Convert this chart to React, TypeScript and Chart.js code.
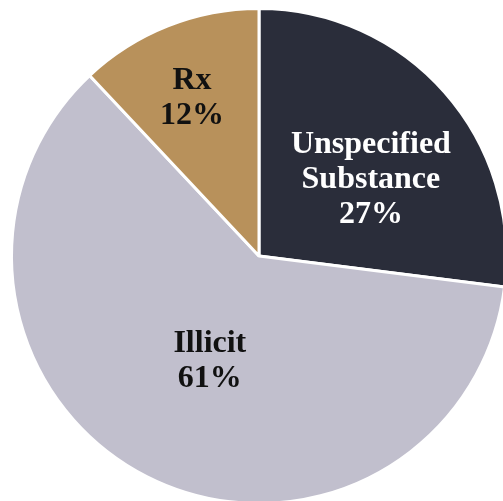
import React, { useEffect, useRef } from "react";
import { Chart, registerables } from "chart.js";

Chart.register(...registerables);

const categories: string[][] = [["Unspecified", "Substance"], ["Illicit"], ["Rx"]];
const values: number[] = [27, 61, 12];
const colors: string[] = ["#2a2d3a", "#c1bfcd", "#b8915b"];
const textColors: string[] = ["#ffffff", "#111111", "#111111"];
// label placement: radial fraction, and pixel shifts
const labelFrac: number[] = [0.56, 0.46, 0.71];
const labelShift: number[][] = [[9, 12], [2, 3], [-3, 2]];

const labelPlugin = {
  id: "sliceLabels",
  afterDatasetsDraw(chart: any) {
    const ctx = chart.ctx;
    const meta = chart.getDatasetMeta(0);
    const total = values.reduce((a, b) => a + b, 0);
    ctx.save();
    const fs = 32;
    const lh = 35;
    ctx.font = `bold ${fs}px "Liberation Serif", "DejaVu Serif", serif`;
    ctx.textAlign = "center";
    ctx.textBaseline = "alphabetic";
    meta.data.forEach((arc: any, i: number) => {
      const p = arc.getProps(["x", "y", "startAngle", "endAngle"], true);
      const mid = (p.startAngle + p.endAngle) / 2;
      const d = 245 * labelFrac[i];
      const cx = p.x + Math.cos(mid) * d + labelShift[i][0];
      const cy = p.y + Math.sin(mid) * d + labelShift[i][1];
      const pct = Math.round((values[i] / total) * 100) + "%";
      const lines = [...categories[i], pct];
      const n = lines.length;
      ctx.fillStyle = textColors[i];
      lines.forEach((t, k) => {
        const by = cy - ((n - 1) / 2) * lh + lh * k + 10.5;
        ctx.fillText(t, cx, by);
      });
    });
    ctx.restore();
  },
};

export default function App() {
  const ref = useRef<HTMLCanvasElement>(null);
  useEffect(() => {
    document.body.style.margin = "0";
    document.body.style.overflow = "hidden";
    const chart = new Chart(ref.current!, {
      type: "pie",
      data: {
        labels: categories.map((c) => c.join(" ")),
        datasets: [
          {
            data: values,
            backgroundColor: colors,
            borderColor: "#ffffff",
            borderWidth: 3,
          },
        ],
      },
      options: {
        animation: false,
        responsive: true,
        maintainAspectRatio: false,
        layout: { padding: { left: 10, top: 7, right: 2, bottom: 5 } },
        plugins: {
          legend: { display: false },
          tooltip: { enabled: false },
        },
      },
      plugins: [labelPlugin],
    });
    return () => chart.destroy();
  }, []);
  return (
    <div style={{ position: "relative", width: 503, height: 501, overflow: "hidden" }}>
      <div style={{ position: "absolute", left: 0, top: 0, width: 510, height: 510 }}>
        <canvas ref={ref} />
      </div>
    </div>
  );
}
